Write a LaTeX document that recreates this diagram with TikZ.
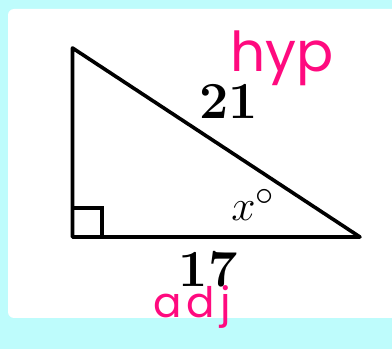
\documentclass[tikz,border=0pt]{standalone}
\usepackage{amsmath,amssymb}
\usepackage{fontspec}
\newfontfamily\handfont{Poppins}
\newfontfamily\handwide[LetterSpace=12]{Poppins}
\usepackage{xcolor}
\definecolor{bgcyan}{RGB}{190,252,252}
\definecolor{inkpink}{RGB}{255,10,127}

\begin{document}
\begin{tikzpicture}[x=1pt, y=1pt,
    side/.style={draw=black, line width=3.6pt, line join=round},
    len/.style={font=\fontsize{52}{56}\selectfont\bfseries},
    ang/.style={font=\Huge},
    note/.style={text=inkpink, anchor=base}
]
\useasboundingbox (0,0) rectangle (392,349);
\fill[bgcyan] (0,0) rectangle (392,349);
\fill[white, rounded corners=6pt] (8,31) rectangle (410,340);

\coordinate (top) at (72.5,301);
\coordinate (corner) at (72.5,112);
\coordinate (tip) at (360,112);

\draw[side] (top) -- (corner) -- (tip) -- cycle;
\draw[line width=3.2pt] (72.5,141) -| (102,112);

\node[len] (hyplen) at (229,248) {21};
\node[len] (adjlen) at (208,80) {17};
\node[ang] (angle) at (253,144) {\scalebox{1.75}{$x^\circ$}};

\node[note, font=\fontsize{55}{60}\handfont] (hyp) at (282,277) {hyp};
\node[note, font=\fontsize{42}{46}\handwide] (adj) at (192,31) {adj};
\end{tikzpicture}
\end{document}
